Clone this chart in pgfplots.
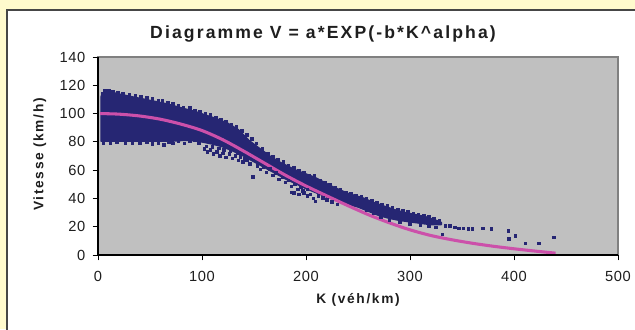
\documentclass[border=0pt]{standalone}
\usepackage{fontspec}
\setmainfont{Liberation Sans}
\newfontfamily\spacedfont[LetterSpace=12]{Liberation Sans}
\newfontfamily\tickfont[LetterSpace=4]{Liberation Sans}
\usepackage{pgfplots}
\pgfplotsset{compat=1.18}
\definecolor{bgyellow}{RGB}{255,250,205}
\definecolor{plotgray}{RGB}{192,192,192}
\definecolor{navyc}{RGB}{38,38,115}
\definecolor{magc}{RGB}{204,80,170}
\definecolor{framegray}{RGB}{128,128,128}
\definecolor{textc}{RGB}{30,30,30}
\definecolor{borderc}{RGB}{70,70,70}
\begin{document}
\begin{tikzpicture}
\useasboundingbox (0pt,0pt) rectangle (476.25pt,246.75pt);
\fill[bgyellow] (0pt,0pt) rectangle (476.25pt,246.75pt);
\fill[white] (5.25pt,-5pt) rectangle (480pt,239.25pt);
\draw[line width=1.4pt, borderc] (5.25pt,-5pt) -- (5.25pt,239.25pt) -- (480pt,239.25pt);
\node[font=\spacedfont\bfseries\fontsize{13.2}{15}\selectfont, text=textc, anchor=base, inner sep=0pt] at (242.25pt,217.5pt) {Diagramme V = a*EXP(-b*K\textasciicircum alpha)};
\node[font=\spacedfont\bfseries\fontsize{10.3}{12}\selectfont, text=textc, anchor=base, inner sep=0pt, rotate=90] at (32.5pt,130.9pt) {Vitesse (km/h)};
\node[font=\spacedfont\bfseries\fontsize{10.3}{12}\selectfont, text=textc, anchor=base, inner sep=0pt] at (268.5pt,19pt) {K (véh/km)};
\begin{axis}[
  at={(73.5pt,55.5pt)}, anchor=south west,
  scale only axis, width=390pt, height=148.5pt,
  xmin=0, xmax=500, ymin=0, ymax=140,
  xtick={0,100,...,500}, ytick={0,20,...,140},
  axis background/.style={fill=plotgray},
  axis lines*=left,
  axis line style={black, line width=0.8pt, -},
  axis on top,
  tick align=outside, major tick length=4pt,
  tick style={black, line width=0.6pt},
  ticklabel style={font=\tickfont\fontsize{11}{13}\selectfont, text=textc},
  xticklabel style={yshift=-5pt},
  yticklabel style={xshift=-2pt},
  /pgf/number format/assume math mode=true,
  clip=false,
]
\draw[framegray, line width=1.2pt] (rel axis cs:0,0) rectangle (rel axis cs:1,1);
% dense core of the cloud
\addplot[fill=navyc, draw=navyc, line width=1.2pt, line join=round] coordinates {
(3,112) (5,114.5) (9,115.5) (16,114.5) (25,113) (35,111.5) (45,110) (55,108.5) (65,107) (75,105)
(85,103) (95,101) (105,98.5) (115,96) (125,93) (135,88.5) (145,81) (155,75.5) (165,70) (175,65.5)
(190,60) (208,55) (225,48.5) (240,43.6) (256,40) (265,37) (275,34.5) (285,32) (295,30) (305,28.5)
(315,27) (325,24.5) (330,23)
(330,21.5) (320,21.5) (310,22.5) (300,23.5) (290,24.5) (280,26) (270,28) (260,31) (250,34)
(240,36) (230,38.5) (220,41) (210,44) (200,47) (190,50.5) (180,54) (170,58) (160,62) (150,66)
(140,70) (130,73.5) (120,76.5) (110,78.5) (100,80) (90,81) (80,81) (70,80.5) (60,80.5) (50,80.5)
(40,80.5) (30,80.5) (20,80.5) (10,80.5) (3,80.5) (3,112)
};
% individual points along the edges and outliers
\addplot[only marks, mark=square*, mark size=0.95pt, navyc] coordinates {
(4,114) (6,116) (8,116.5) (11,116) (14,115.5) (19,115) (24,114) (30,113.5) (36,112.5) (41,112)
(47,111) (52,110.5) (58,109.5) (62,109) (67,108) (72,107) (77,106) (82,104.5) (88,104) (93,102.5)
(98,101.5) (103,100) (108,99) (113,97.5) (118,96) (123,94.5) (128,92.5) (133,90.5) (138,88) (143,85)
(148,82) (152,79) (158,75) (163,72) (168,69.5) (173,67.5) (178,66) (183,63.5) (188,61.5) (193,60)
(198,58) (203,56.5) (208,56) (213,53) (218,51) (223,49.5) (228,47.5) (233,46) (238,44.5) (243,43.5)
(248,42) (253,41) (258,40) (263,38.5) (268,37) (273,36) (278,35) (283,33.5) (288,32.5) (293,31.5)
(298,30.5) (303,29.5) (308,28.5) (313,28) (318,27) (323,26) (328,24.5)
(5,79.5) (12,79) (18,80) (26,79.5) (33,79) (40,79.5) (47,80) (52,78.5) (58,79.5) (63,78)
(68,80) (72,79) (77,80.5) (83,79) (88,80.5) (93,81) (97,79.5)
(102,75) (104,77) (105,73) (108,74.5) (110,76.5) (111,71.5) (114,73) (116,75.5) (117,70) (120,72)
(121,74.5) (123,69) (126,71.5) (127,73.5) (129,68.5) (132,70) (134,72) (135,67) (137,69.5) (139,66)
(141,68.5) (143,67.5) (146,64.5) (149,55.5)
(153,63) (156,60.5) (159,62) (162,58.5) (165,61) (168,56.5) (171,58) (174,53.5) (177,55) (180,51.5)
(183,53) (186,48.5) (186,44.5) (189,50) (192,46.5) (195,48) (198,44) (201,46.5) (204,43) (207,40)
(209,38) (212,42) (216,40.5) (220,39) (225,37.5) (230,36) (188,44) (193,43) (197,45.5) (201,42)
(258,32) (265,29.5) (272,27) (280,24.5) (290,23) (300,22) (310,21) (318,20.5) (325,19.5) (331,14.6)
(334,20.5) (338,20.5) (343,19.5) (347,19) (351,19) (356,18.5) (360,18.5) (370,18.9) (378,18.4)
(394.5,17) (395,11.5) (401,13.5) (411,8.3) (424,8.3) (438,12.5)
};
% fitted curve
\addplot[magc, line width=2.3pt, smooth] coordinates {
(2,100) (20,99.6) (40,98.3) (60,96) (80,92.5) (100,88) (120,81.5) (140,73.5) (160,65) (180,56.5)
(200,48.8) (220,41.8) (240,35) (260,28.5) (280,22.8) (300,17.8) (320,13.8) (340,10.8) (360,8.3)
(380,6.2) (400,4.4) (420,2.8) (440,1.3)
};
\end{axis}
\end{tikzpicture}
\end{document}
